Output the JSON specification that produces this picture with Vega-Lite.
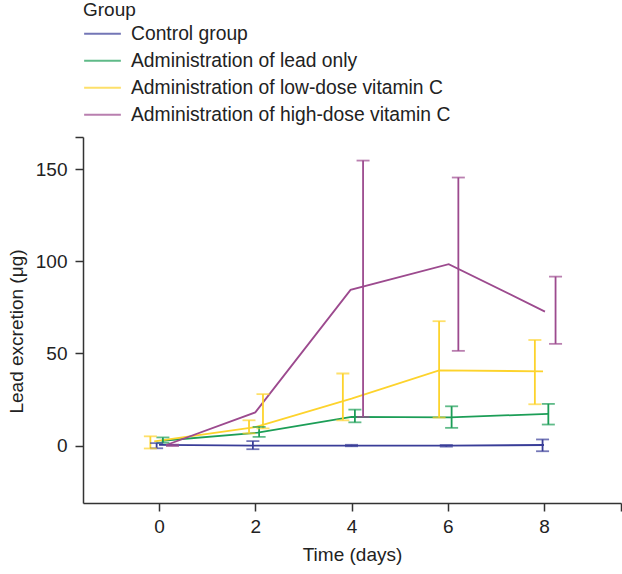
{
  "$schema": "https://vega.github.io/schema/vega-lite/v6.json",
  "width": 538,
  "height": 366,
  "autosize": {"type": "none"},
  "padding": {"left": 83, "top": 137, "right": 1, "bottom": 71},
  "background": "white",
  "config": {
    "view": {"stroke": null},
    "font": "Liberation Sans",
    "axis": {
      "grid": false,
      "domainColor": "#333333",
      "domainWidth": 1.5,
      "tickColor": "#333333",
      "tickWidth": 1.5,
      "tickSize": 8,
      "labelFontSize": 19,
      "labelColor": "#222222",
      "labelFont": "Liberation Sans",
      "titleFontSize": 19,
      "titleFontWeight": "normal",
      "titleColor": "#222222",
      "titleFont": "Liberation Sans"
    },
    "legend": {
      "titleFontSize": 19,
      "titleFontWeight": "normal",
      "titleColor": "#222222",
      "labelFontSize": 19.3,
      "labelColor": "#222222",
      "titleFont": "Liberation Sans",
      "labelFont": "Liberation Sans",
      "labelLimit": 0
    }
  },
  "datasets": {
    "means": [
      {"group": "Control group", "day": 0, "value": 0.4},
      {"group": "Control group", "day": 2, "value": 0},
      {"group": "Control group", "day": 4, "value": 0},
      {"group": "Control group", "day": 6, "value": -0.1},
      {"group": "Control group", "day": 8, "value": 0.3},
      {"group": "Administration of lead only", "day": 0.05, "value": 2.6},
      {"group": "Administration of lead only", "day": 2.05, "value": 7},
      {"group": "Administration of lead only", "day": 4.0, "value": 15.6},
      {"group": "Administration of lead only", "day": 6.05, "value": 15.3},
      {"group": "Administration of lead only", "day": 8.09, "value": 17.2},
      {"group": "Administration of low-dose vitamin C", "day": -0.1, "value": 2.3},
      {"group": "Administration of low-dose vitamin C", "day": 2.0, "value": 10},
      {"group": "Administration of low-dose vitamin C", "day": 4.0, "value": 25.5},
      {"group": "Administration of low-dose vitamin C", "day": 5.82, "value": 40.8},
      {"group": "Administration of low-dose vitamin C", "day": 7.98, "value": 40.3},
      {"group": "Administration of high-dose vitamin C", "day": 0.15, "value": 0.3},
      {"group": "Administration of high-dose vitamin C", "day": 2.0, "value": 18},
      {"group": "Administration of high-dose vitamin C", "day": 3.98, "value": 84.5},
      {"group": "Administration of high-dose vitamin C", "day": 6.02, "value": 98.5},
      {"group": "Administration of high-dose vitamin C", "day": 8.02, "value": 72.7}
    ],
    "bars": [
      {"group": "Control group", "day": -0.05, "lo": -1.5, "hi": 1.3},
      {"group": "Control group", "day": 1.95, "lo": -2.0, "hi": 2.4},
      {"group": "Control group", "day": 4.0, "lo": -0.4, "hi": 0.4},
      {"group": "Control group", "day": 5.97, "lo": -0.6, "hi": 0.3},
      {"group": "Control group", "day": 7.97, "lo": -3.1, "hi": 3.3},
      {"group": "Administration of lead only", "day": 0.08, "lo": 1.5, "hi": 4.4},
      {"group": "Administration of lead only", "day": 2.08, "lo": 4.7, "hi": 10.1},
      {"group": "Administration of lead only", "day": 4.07, "lo": 12.6, "hi": 19.5},
      {"group": "Administration of lead only", "day": 6.08, "lo": 9.6, "hi": 21.3},
      {"group": "Administration of lead only", "day": 8.09, "lo": 11.4, "hi": 22.6},
      {"group": "Administration of low-dose vitamin C", "day": -0.18, "lo": -1.6, "hi": 5.0},
      {"group": "Administration of low-dose vitamin C", "day": 1.87, "lo": 6.6, "hi": 13.7},
      {"group": "Administration of low-dose vitamin C", "day": 2.16, "lo": 9.3, "hi": 27.9},
      {"group": "Administration of low-dose vitamin C", "day": 3.82, "lo": 13.7, "hi": 39.1},
      {"group": "Administration of low-dose vitamin C", "day": 5.82, "lo": 15.2, "hi": 67.5},
      {"group": "Administration of low-dose vitamin C", "day": 7.81, "lo": 22.4, "hi": 57.3},
      {"group": "Administration of high-dose vitamin C", "day": 0.28, "lo": -0.3, "hi": 0.5},
      {"group": "Administration of high-dose vitamin C", "day": 4.24, "lo": 15.5, "hi": 154.7},
      {"group": "Administration of high-dose vitamin C", "day": 6.22, "lo": 51.4, "hi": 145.5},
      {"group": "Administration of high-dose vitamin C", "day": 8.24, "lo": 55.2, "hi": 91.7}
    ]
  },
  "encoding": {
    "color": {
      "field": "group",
      "type": "nominal",
      "scale": {
        "domain": ["Control group", "Administration of lead only", "Administration of low-dose vitamin C", "Administration of high-dose vitamin C"],
        "range": ["#393d98", "#1c9e57", "#fdd32c", "#9c4a8e"]
      },
      "legend": {
        "title": "Group",
        "orient": "none",
        "legendX": 0,
        "legendY": -136,
        "symbolType": "M-1.5,0H1.5",
        "symbolSize": 600,
        "symbolStrokeWidth": 2,
        "symbolFillColor": "transparent",
        "symbolOffset": 6,
        "labelOffset": 15,
        "titlePadding": 0.3,
        "rowPadding": 3
      }
    }
  },
  "layer": [
    {
      "data": {"name": "means"},
      "mark": {"type": "line", "strokeWidth": 1.8},
      "encoding": {
        "x": {
          "field": "day",
          "type": "quantitative",
          "scale": {"domain": [-1.58, 9.6], "nice": false, "zero": false},
          "axis": {
            "title": "Time (days)",
            "values": [0, 2, 4, 6, 8, 9.6],
            "labelExpr": "datum.value > 9 ? '' : datum.label",
            "labelPadding": 6,
            "titlePadding": 9
          }
        },
        "y": {
          "field": "value",
          "type": "quantitative",
          "scale": {"domain": [-31.2, 167.5], "nice": false, "zero": false},
          "axis": {
            "title": "Lead excretion (μg)",
            "values": [0, 50, 100, 150, 167.5],
            "labelExpr": "datum.value > 160 ? '' : datum.label",
            "labelPadding": 8,
            "titlePadding": 9,
            "titleY": 194
          }
        },
        "order": {"field": "day", "type": "quantitative"}
      }
    },
    {
      "data": {"name": "bars"},
      "mark": {"type": "rule", "strokeWidth": 1.8},
      "encoding": {
        "x": {"field": "day", "type": "quantitative"},
        "y": {"field": "lo", "type": "quantitative"},
        "y2": {"field": "hi"}
      }
    },
    {
      "data": {"name": "bars"},
      "mark": {"type": "tick", "orient": "horizontal", "size": 13, "thickness": 1.8},
      "encoding": {
        "x": {"field": "day", "type": "quantitative"},
        "y": {"field": "lo", "type": "quantitative"}
      }
    },
    {
      "data": {"name": "bars"},
      "mark": {"type": "tick", "orient": "horizontal", "size": 13, "thickness": 1.8},
      "encoding": {
        "x": {"field": "day", "type": "quantitative"},
        "y": {"field": "hi", "type": "quantitative"}
      }
    }
  ]
}
